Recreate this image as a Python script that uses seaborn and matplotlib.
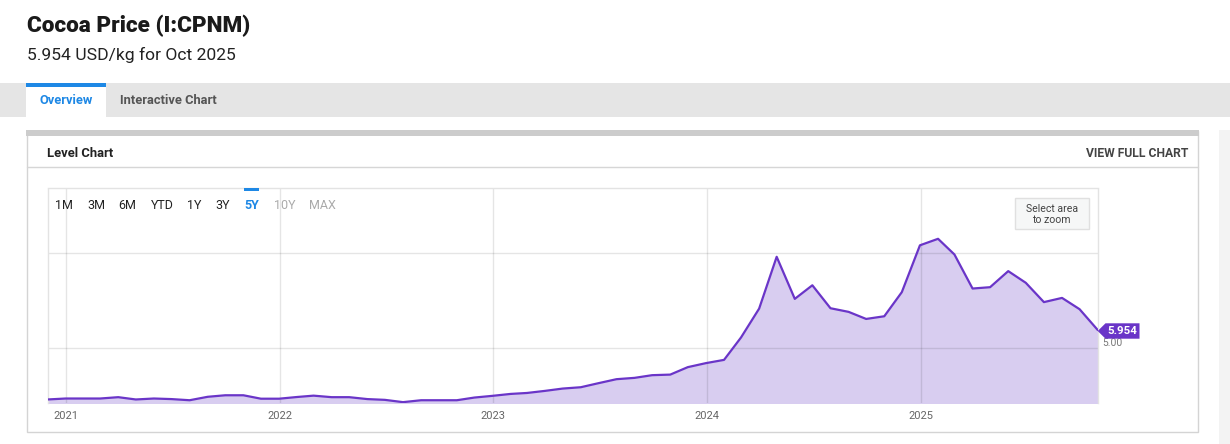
import matplotlib
matplotlib.use("Agg")
import matplotlib.pyplot as plt
from matplotlib.patches import Rectangle, Polygon
from matplotlib.lines import Line2D
import matplotlib.dates as mdates
import seaborn as sns
import pandas as pd
import numpy as np

# ---------------- data ----------------
start_month = "2020-11"
prices = [
    2.32, 2.37,                                                        # 2020 Nov-Dec
    2.37, 2.37, 2.44, 2.32, 2.37, 2.34, 2.28, 2.46, 2.54, 2.54, 2.36, 2.36,  # 2021
    2.45, 2.52, 2.44, 2.44, 2.34, 2.30, 2.18, 2.28, 2.28, 2.28, 2.42, 2.51,  # 2022
    2.61, 2.66, 2.77, 2.89, 2.96, 3.17, 3.38, 3.45, 3.59, 3.62, 4.01, 4.22,  # 2023
    4.39, 5.56, 7.07, 9.78, 7.58, 8.29, 7.09, 6.90, 6.53, 6.67, 7.93, 10.38, # 2024
    10.72, 9.90, 8.12, 8.19, 9.03, 8.42, 7.41, 7.63, 7.04, 5.954,           # 2025
]
year_ticks = ["2021", "2022", "2023", "2024", "2025"]
y_grid = [5.0, 10.0]
range_buttons = ["1M", "3M", "6M", "YTD", "1Y", "3Y", "5Y", "10Y", "MAX"]
last_label = "5.954"

months = pd.period_range(start_month, periods=len(prices), freq="M")
dates = months.end_time.normalize()
df = pd.DataFrame({"date": dates, "price": prices})

# ---------------- styling ----------------
W, H = 1230, 444
LINE = "#6a35c8"
FILL = "#d8cdf0"
REG = ["Roboto", "DejaVu Sans"]

sns.set_theme(style="white")
plt.rcParams["font.family"] = REG

fig = plt.figure(figsize=(W / 100, H / 100), dpi=100)
fig.patch.set_facecolor("white")


def fx(x):
    return x / W


def fy(y):
    return 1 - y / H


def rect(x0, y0, x1, y1, fc, ec="none", lw=0, z=0):
    r = Rectangle((fx(x0), fy(y1)), fx(x1) - fx(x0), fy(y0) - fy(y1),
                  transform=fig.transFigure, facecolor=fc, edgecolor=ec,
                  linewidth=lw, zorder=z)
    fig.add_artist(r)


def hline(x0, x1, y, c, lw=1, z=1):
    fig.add_artist(Line2D([fx(x0), fx(x1)], [fy(y), fy(y)], transform=fig.transFigure,
                          color=c, linewidth=lw, zorder=z))


def txt(x, y, s, size, color, weight="normal", ha="left", va="baseline", z=5):
    fig.text(fx(x), fy(y), s, fontsize=size, color=color, fontweight=weight,
             ha=ha, va=va, family=REG, zorder=z)


# header
txt(27, 32, "Cocoa Price (I:CPNM)", 16.2, "#1a1a1a", weight="heavy")
txt(27, 60, "5.954 USD/kg for Oct 2025", 12.6, "#222222")

# tab bar
rect(0, 83, W, 117, "#e5e5e5")
rect(26, 83, 106, 117, "white", z=1)
rect(26, 83, 106, 86.5, "#1e88e5", z=2)
txt(66, 104, "Overview", 9.3, "#1e88e5", weight="bold", ha="center")
txt(119.5, 104, "Interactive Chart", 9.3, "#555555", weight="bold")

# card
rect(26.5, 131, 1198, 431.5, "white", ec="#d4d4d4", lw=1, z=0.5)
rect(26, 130.5, 1198.5, 136.5, "#cccccc", z=1)
hline(27, 1198, 167.5, "#d6d6d6")
rect(1218.5, 130, W, H, "#f3f3f3")
txt(47.3, 157, "Level Chart", 9.4, "#222222", weight="bold")
txt(1188.5, 157, "VIEW FULL CHART", 8.7, "#444444", weight="bold", ha="right")

# ---------------- the chart ----------------
ax_l, ax_r, ax_t, ax_b = 47.5, 1097.7, 188.5, 403.3
ax = fig.add_axes([fx(ax_l), fy(ax_b), fx(ax_r) - fx(ax_l), fy(ax_t) - fy(ax_b)])
ax.set_zorder(3)
ax.set_facecolor("none")

ax.fill_between(df["date"], df["price"], 0, color=FILL, linewidth=0, zorder=1)
sns.lineplot(data=df, x="date", y="price", ax=ax, color=LINE, linewidth=1.6, zorder=3)

ax.set_xlim(df["date"].iloc[0], df["date"].iloc[-1])
ax.set_ylim(2.12, 13.35)
tick_dates = pd.to_datetime([f"{y}-01-01" for y in year_ticks])
ax.set_xticks(tick_dates)
ax.set_xticklabels([])
ax.set_yticks(y_grid)
ax.set_yticklabels([])
ax.tick_params(length=0)
ax.set_xlabel("")
ax.set_ylabel("")
ax.set_axisbelow("line")
ax.grid(True, color="black", alpha=0.1, linewidth=1)
for side in ["left", "top", "right"]:
    ax.spines[side].set_color("#e3e3e3")
    ax.spines[side].set_linewidth(1)
ax.spines["bottom"].set_visible(False)

# year labels below the plot, centred on grid lines
for d, lab in zip(tick_dates, year_ticks):
    ax.annotate(lab, xy=(mdates.date2num(d), 0), xycoords=("data", "axes fraction"),
                xytext=(0, -16), textcoords="offset pixels", ha="center", va="baseline",
                fontsize=8, color="#666666", family=REG, annotation_clip=False)

# range selector buttons
btn_x = [55.3, 87.3, 118.7, 150.7, 187.3, 215.7, 244.3, 274, 309]
for bx, b in zip(btn_x, range_buttons):
    if b == "5Y":
        c, w = "#1e88e5", "bold"
    elif b in ("10Y", "MAX"):
        c, w = "#aaaaaa", "normal"
    else:
        c, w = "#222222", "normal"
    txt(bx, 209.3, b, 9.0, c, weight=w, z=8)
rect(244, 188, 258.5, 190.8, "#1e88e5", z=8)

# select area to zoom box
rect(1015, 198.5, 1088.5, 229.5, "#f6f7f7", ec="#e0e0e0", lw=1, z=6)
txt(1051.7, 211.5, "Select area", 7.6, "#444444", ha="center", z=7)
txt(1051.7, 223.3, "to zoom", 7.6, "#444444", ha="center", z=7)

# last value flag
fig.add_artist(Polygon([(fx(1097.7), fy(331)), (fx(1105.5), fy(323.3)), (fx(1139.5), fy(323.3)),
                        (fx(1139.5), fy(338.7)), (fx(1105.5), fy(338.7))], closed=True,
                       transform=fig.transFigure, facecolor=LINE, edgecolor="none", zorder=9))
txt(1122.5, 331.3, last_label, 8.2, "white", weight="bold", ha="center", va="center", z=10)
txt(1102.3, 345.7, "5.00", 7.4, "#777777", z=8)

fig.savefig("out.png", dpi=100, facecolor="white")
